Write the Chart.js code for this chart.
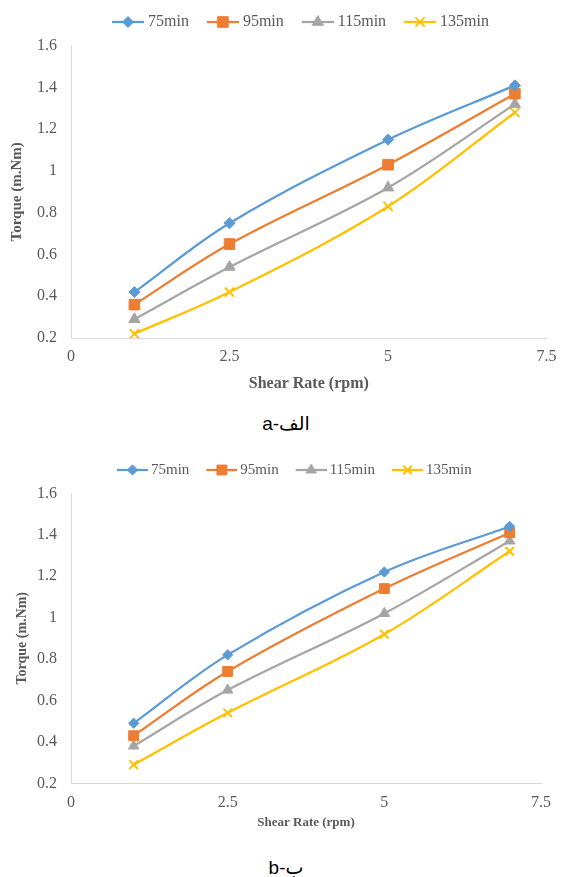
<!DOCTYPE html>
<html lang="en">
<head>
<meta charset="UTF-8">
<title>Torque vs Shear Rate</title>
<script src="https://cdn.jsdelivr.net/npm/chart.js@4.4.1/dist/chart.umd.min.js"></script>
<style>
  body { margin: 0; background: #fff; width: 566px; height: 877px; position: relative; overflow: hidden; }
  .box { position: absolute; left: 0; width: 566px; }
  .caption { position: absolute; left: 0; width: 566px; text-align: center; line-height: 22px;
             font-family: "Liberation Sans", "DejaVu Sans", sans-serif; font-size: 19px; color: #000; }
</style>
</head>
<body>
<div class="box" style="top:0;height:400px"><canvas id="chartA"></canvas></div>
<div class="caption" style="top:413px;left:3px">a-الف</div>
<div class="box" style="top:448px;height:385px"><canvas id="chartB"></canvas></div>
<div class="caption" style="top:857px;left:3px">b-ب</div>

<script>
// data
var shearRate = [1, 2.5, 5, 7];
var seriesNames = ['75min', '95min', '115min', '135min'];

var torqueA75 = [0.42, 0.75, 1.15, 1.41];
var torqueA95 = [0.36, 0.65, 1.03, 1.37];
var torqueA115 = [0.29, 0.54, 0.92, 1.32];
var torqueA135 = [0.22, 0.42, 0.83, 1.28];

var torqueB75 = [0.49, 0.82, 1.22, 1.44];
var torqueB95 = [0.43, 0.74, 1.14, 1.41];
var torqueB115 = [0.38, 0.65, 1.02, 1.37];
var torqueB135 = [0.29, 0.54, 0.92, 1.32];

var xTicks = [0, 2.5, 5, 7.5];
var xTickLabels = ['0', '2.5', '5', '7.5'];
var yTicks = [0.2, 0.4, 0.6, 0.8, 1, 1.2, 1.4, 1.6];
var yTickLabels = ['0.2', '0.4', '0.6', '0.8', '1', '1.2', '1.4', '1.6'];

var xTitle = 'Shear Rate (rpm)';
var yTitle = 'Torque (m.Nm)';
</script>

<script>
var colors = ['#5B9BD5', '#ED7D31', '#A5A5A5', '#FFC000'];
var markers = ['rectRot', 'rect', 'triangle', 'crossRot'];
var markerRadius = [5.5, 7.5, 6.5, 6.5];
var textColor = '#595959';
var axisColor = '#D9D9D9';
var serif = '"Liberation Serif", "Times New Roman", serif';

// little line+marker picture for the legend, like Excel does
function legendIcon(i, cfg) {
    var w = cfg.boxW + cfg.font - 2 * cfg.gap, h = 22;
    var c = document.createElement('canvas');
    c.width = w; c.height = h;
    var ctx = c.getContext('2d');
    ctx.strokeStyle = colors[i];
    ctx.fillStyle = colors[i];
    ctx.lineWidth = 2.25;
    ctx.beginPath();
    ctx.moveTo(w - cfg.lineLen, h / 2);
    ctx.lineTo(w, h / 2);
    ctx.stroke();
    var r = markerRadius[i] * cfg.scale;
    ctx.lineWidth = markers[i] == 'crossRot' ? 2 : 1;
    if (Chart.helpers && Chart.helpers.drawPoint) {
        Chart.helpers.drawPoint(ctx, {pointStyle: markers[i], radius: r, rotation: 0, borderWidth: ctx.lineWidth}, w - cfg.lineLen / 2, h / 2);
    }
    return c;
}

function labelFor(ticks, labels, v) {
    for (var k = 0; k < ticks.length; k++) {
        if (Math.abs(ticks[k] - v) < 1e-9) return labels[k];
    }
    return '';
}

function makeChart(id, series, cfg) {
    var icons = seriesNames.map(function (n, i) { return legendIcon(i, cfg); });

    var legendPlace = {
        id: 'legendPlace',
        beforeInit: function (chart) {
            var fit = chart.legend.fit;
            chart.legend.fit = function () { fit.call(this); this.height = cfg.legendHeight; };
        },
        afterLayout: function (chart) {
            chart.legend.left = cfg.legendStart - cfg.legendPad;
        }
    };

    var datasets = series.map(function (vals, i) {
        return {
            label: seriesNames[i],
            data: shearRate.map(function (x, j) { return {x: x, y: vals[j]}; }),
            borderColor: colors[i],
            backgroundColor: colors[i],
            borderWidth: 2.25,
            tension: 0.35,
            pointStyle: markers[i],
            pointRadius: markerRadius[i] * cfg.scale,
            pointBorderWidth: markers[i] == 'crossRot' ? 2 : 1,
            fill: false
        };
    });

    return new Chart(document.getElementById(id), {
        type: 'line',
        data: {datasets: datasets},
        plugins: [legendPlace],
        options: {
            responsive: true,
            maintainAspectRatio: false,
            animation: false,
            layout: {padding: {top: 0, left: 0, bottom: 0, right: cfg.padRight}},
            plugins: {
                tooltip: {enabled: false},
                legend: {
                    position: 'top',
                    align: 'start',
                    labels: {
                        usePointStyle: true,
                        pointStyleWidth: cfg.boxW,
                        padding: cfg.legendPad,
                        color: textColor,
                        font: {family: serif, size: cfg.font},
                        generateLabels: function (chart) {
                            return chart.data.datasets.map(function (ds, i) {
                                return {text: ds.label, pointStyle: icons[i], fillStyle: colors[i],
                                        strokeStyle: colors[i], lineWidth: 0, hidden: false,
                                        datasetIndex: i, fontColor: textColor};
                            });
                        }
                    }
                }
            },
            scales: {
                x: {
                    type: 'linear',
                    min: xTicks[0],
                    max: xTicks[xTicks.length - 1],
                    afterBuildTicks: function (scale) { scale.ticks = xTicks.map(function (v) { return {value: v}; }); },
                    afterFit: function (scale) { scale.height = cfg.xAxisH; },
                    grid: {display: false, drawTicks: false},
                    border: {display: true, color: axisColor, width: 1},
                    ticks: {color: textColor, padding: cfg.xTickPad, font: {family: serif, size: 16}, maxRotation: 0,
                            callback: function (v) { return labelFor(xTicks, xTickLabels, v); }},
                    title: {display: true, text: xTitle, color: textColor,
                            font: {family: serif, size: cfg.xTitleSize, weight: 'bold'},
                            padding: {top: 0, bottom: cfg.xTitlePad}}
                },
                y: {
                    min: yTicks[0],
                    max: yTicks[yTicks.length - 1],
                    afterBuildTicks: function (scale) { scale.ticks = yTicks.map(function (v) { return {value: v}; }); },
                    afterFit: function (scale) { scale.width = 71; },
                    grid: {display: false, drawTicks: false},
                    border: {display: true, color: axisColor, width: 1},
                    ticks: {color: textColor, padding: 14, font: {family: serif, size: 16},
                            callback: function (v) { return labelFor(yTicks, yTickLabels, v); }},
                    title: {display: true, text: yTitle, color: textColor,
                            font: {family: serif, size: cfg.yTitleSize, weight: 'bold'},
                            padding: {top: cfg.yTitlePad, bottom: 0}}
                }
            }
        }
    });
}

makeChart('chartA', [torqueA75, torqueA95, torqueA115, torqueA135], {
    scale: 1, font: 16, boxW: 32, lineLen: 32, gap: 4, legendPad: 14, legendStart: 108, legendHeight: 45.7,
    padRight: 14, xAxisH: 62, xTickPad: 9.4, xTitleSize: 16, xTitlePad: 6.4, yTitleSize: 15, yTitlePad: 8
});
makeChart('chartB', [torqueB75, torqueB95, torqueB115, torqueB135], {
    scale: 0.93, font: 15, boxW: 29, lineLen: 31, gap: 3, legendPad: 14.5, legendStart: 114.5, legendHeight: 45.3,
    padRight: 25, xAxisH: 49.7, xTickPad: 10, xTitleSize: 13, xTitlePad: 2.2, yTitleSize: 14, yTitlePad: 13.6
});
</script>
</body>
</html>
